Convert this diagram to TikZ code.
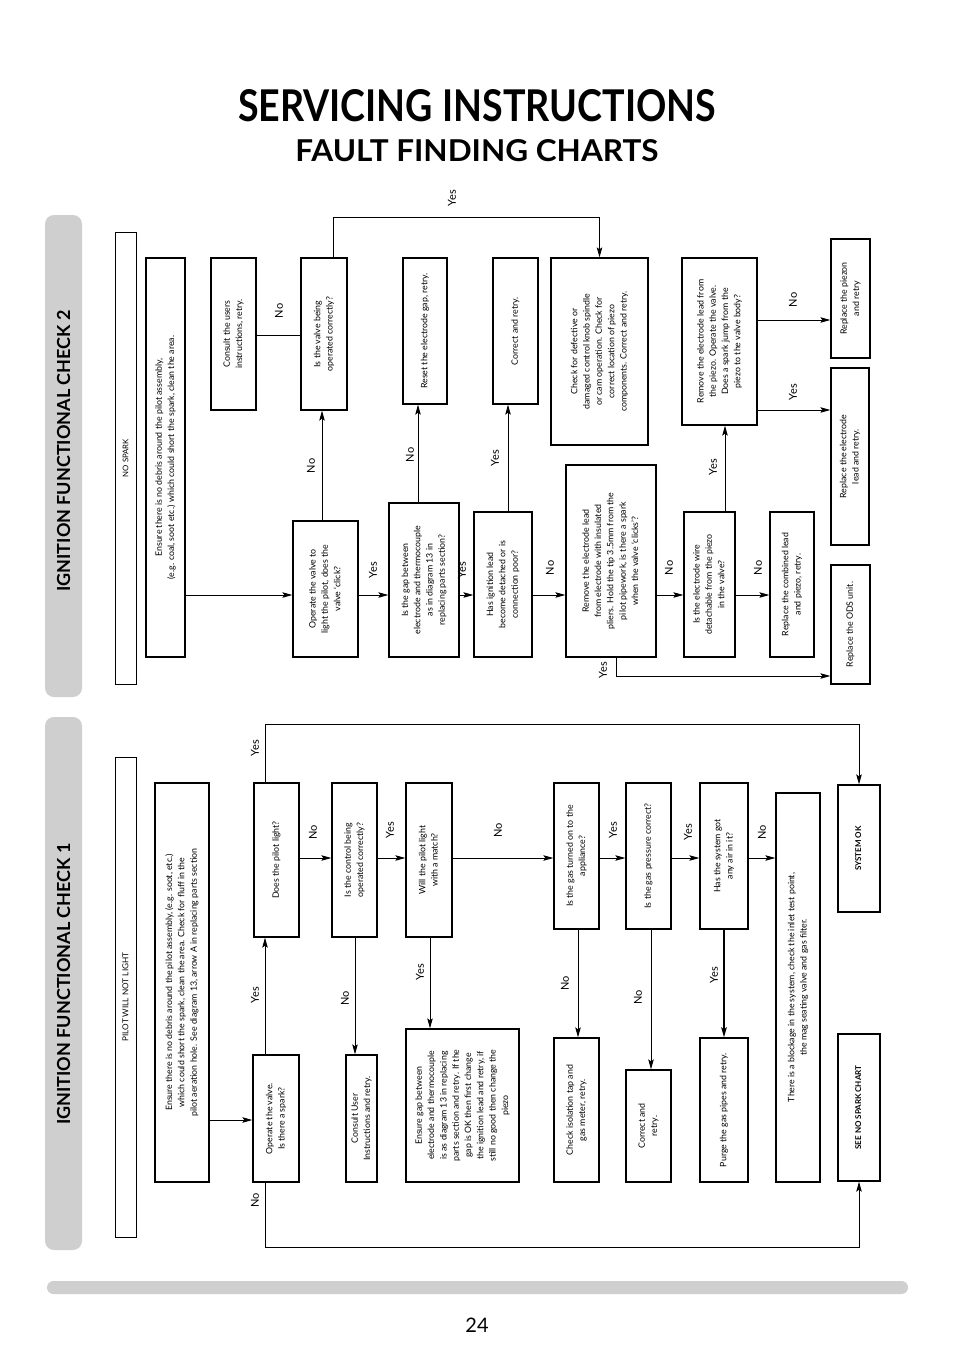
\documentclass[tikz,border=0pt]{standalone}
\usepackage{graphicx}
\usepackage{fontspec}
\setmainfont{Lato}
\usetikzlibrary{arrows.meta}
\newcommand\rtxt[1]{\rotatebox{90}{\begin{tabular}{@{}c@{}}#1\end{tabular}}}
% \cbox{name}{x1}{y1}{x2}{y2}{text}
\newcommand\cbox[6]{\node[box,minimum width={#4pt-#2pt},minimum height={#5pt-#3pt}] (#1) at ({(#2+#4)/2},{(#3+#5)/2}) {\rtxt{#6}};}
\begin{document}
\begin{tikzpicture}[x=1pt,y=-1pt,
  box/.style={draw,line width=1.3pt,inner sep=0pt,font=\fontsize{8.8}{12.3}\selectfont},
  bbox/.style={box,font=\fontsize{8}{11}\selectfont\bfseries},
  lane/.style={draw,line width=0.8pt,inner sep=0pt},
  arr/.style={line width=0.9pt,-{Stealth[length=10pt,width=5.5pt,inset=2pt]}},
  ln/.style={line width=0.9pt},
  lbl/.style={rotate=90,inner sep=0pt,font=\fontsize{11}{12}\selectfont},
  sidebar/.style={fill=black!19,draw=none,rounded corners=9pt},
  sidetxt/.style={rotate=90,inner sep=0pt,font=\fontsize{18}{20}\selectfont\bfseries}]
\useasboundingbox (0,0) rectangle (954,1351);
\fill[white] (0,0) rectangle (954,1351);

% titles
\node[anchor=base,inner sep=0pt] (title) at (477,122) {\resizebox{478pt}{32pt}{\bfseries SERVICING INSTRUCTIONS}};
\node[anchor=base,inner sep=0pt] (subtitle) at (477,162) {\resizebox{363pt}{22pt}{\bfseries FAULT FINDING CHARTS}};

% side bars
\node[sidebar,minimum width=37pt,minimum height=482pt] (bar2) at (63.5,456) {};
\node[sidetxt] (bar2t) at (63.5,451) {IGNITION FUNCTIONAL CHECK 2};
\node[sidebar,minimum width=37pt,minimum height=533pt] (bar1) at (63.5,983.5) {};
\node[sidetxt] (bar1t) at (63.5,984) {IGNITION FUNCTIONAL CHECK 1};
\node[sidebar,rounded corners=6.5pt,minimum width=861pt,minimum height=13pt] (bottombar) at (477.5,1287.5) {};
\node[inner sep=0pt,font=\fontsize{20}{22}\selectfont] (pageno) at (477,1325) {24};

% ---------------- Chart 2 : NO SPARK ----------------
\node[lane,minimum width=21pt,minimum height=452pt] (nospark) at (125.5,458) {\rotatebox{90}{\fontsize{7.8}{9}\selectfont NO SPARK}};
\cbox{A}{146}{258}{185}{657}{Ensure there is no debris around the pilot assembly,\\(e.g. coal, soot etc.) which could short the spark, clean the area.}
\cbox{B}{211}{258}{256}{410}{Consult the users\\instructions, retry.}
\cbox{C}{301}{258}{347}{410}{Is the valve being\\operated correctly?}
\cbox{D}{293}{521}{358}{657}{Operate the valve to\\light the pilot, does the\\valve ‘click?}
\cbox{E}{389}{503}{459}{657}{Is the gap between\\electrode and thermocouple\\as in diagram 13 in\\replacing parts section?}
\cbox{F}{403}{258}{447}{404}{Reset the electrode gap, retry.}
\cbox{G}{474}{512}{532}{657}{Has ignition lead\\become detached or is\\connection poor?}
\cbox{H}{493}{258}{538}{404}{Correct and retry.}
\cbox{I}{566}{465}{656}{657}{Remove the electrode lead\\from electrode with insulated\\pliers. Hold the tip 3.5mm from the\\pilot pipework, is there a spark\\when the valve ‘clicks’?}
\cbox{J}{551}{258}{648}{445}{Check for defective or\\damaged control knob spindle\\or cam operation. Check for\\correct location of piezo\\components. Correct and retry.}
\cbox{K}{684}{512}{735}{657}{Is the electrode wire\\detachable from the piezo\\in the valve?}
\cbox{L}{682}{258}{757}{425}{Remove the electrode lead from\\the piezo. Operate the valve.\\Does a spark jump from the\\piezo to the valve body?}
\cbox{M}{770}{512}{814}{657}{Replace the combined lead\\and piezo, retry.}
\cbox{N}{831}{368}{869}{545}{Replace the electrode\\lead and retry.}
\cbox{O}{831}{239}{870}{358}{Replace the piezon\\and retry}
\cbox{P}{831}{565}{870}{684}{Replace the ODS unit.}

\coordinate (r595) at (0,595);
\coordinate (t217) at (0,217);
\coordinate (x322) at (322,0);
\coordinate (x333) at (333,0);
\coordinate (x418) at (418,0);
\coordinate (x508) at (508,0);
\coordinate (x616) at (616,0);
\coordinate (x725) at (725,0);
\coordinate (r335) at (0,335);
\coordinate (r676) at (0,676);
\coordinate (r410) at (0,410);
\coordinate (r320) at (0,320);

\draw[arr] (A.east|-r595) -- (D.west|-r595);
\draw[arr] (D.north-|x322) -- (C.south-|x322);
\draw[ln] (C.west|-r335) -- (B.east|-r335);
\draw[arr] (C.north-|x333) -- (x333|-t217) -| (J.north);
\draw[arr] (D.east|-r595) -- (E.west|-r595);
\draw[arr] (E.north-|x418) -- (F.south-|x418);
\draw[arr] (E.east|-r595) -- (G.west|-r595);
\draw[arr] (G.north-|x508) -- (H.south-|x508);
\draw[arr] (G.east|-r595) -- (I.west|-r595);
\draw[arr] (I.east|-r595) -- (K.west|-r595);
\draw[arr] (I.south-|x616) |- (P.west|-r676);
\draw[arr] (K.north-|x725) -- (L.south-|x725);
\draw[arr] (K.east|-r595) -- (M.west|-r595);
\draw[arr] (L.east|-r410) -- (N.west|-r410);
\draw[arr] (L.east|-r320) -- (O.west|-r320);

\node[lbl] (l1) at (311,466) {No};
\node[lbl] (l2) at (279,311) {No};
\node[lbl] (l3) at (452,198) {Yes};
\node[lbl] (l4) at (373,570) {Yes};
\node[lbl] (l5) at (410,455) {No};
\node[lbl] (l6) at (462,570) {Yes};
\node[lbl] (l7) at (495,458) {Yes};
\node[lbl] (l8) at (550,568) {No};
\node[lbl] (l9) at (669,568) {No};
\node[lbl] (l10) at (603,670) {Yes};
\node[lbl] (l11) at (713,467) {Yes};
\node[lbl] (l12) at (758,568) {No};
\node[lbl] (l13) at (793,392) {Yes};
\node[lbl] (l14) at (793,300) {No};

% ---------------- Chart 1 : PILOT WILL NOT LIGHT ----------------
\node[lane,minimum width=21pt,minimum height=480pt] (pilot) at (125.5,997) {\rotatebox{90}{\fontsize{8.2}{9}\selectfont PILOT WILL NOT LIGHT}};
\cbox{Q}{155}{783}{209}{1182}{Ensure there is no debris around the pilot assembly, (e.g. soot, etc.)\\which could short the spark, clean the area. Check for fluff in the\\pilot aeration hole. See diagram 13, arrow A in replacing parts section}
\cbox{R}{253}{1055}{299}{1182}{Operate the valve.\\Is there a spark?}
\cbox{S}{254}{783}{299}{937}{Does the pilot light?}
\cbox{T}{332}{783}{377}{937}{Is the control being\\operated correctly?}
\cbox{U}{346}{1055}{377}{1182}{Consult User\\Instructions and retry.}
\cbox{V}{406}{783}{452}{937}{Will the pilot light\\with a match?}
\cbox{W}{406}{1029}{519}{1182}{Ensure gap between\\electrode and thermocouple\\is as diagram 13 in replacing\\parts section and retry. If the\\gap is OK then first change\\the ignition lead and retry, if\\still no good then change the\\piezo}
\cbox{X}{554}{783}{599}{929}{Is the gas turned on to the\\appliance?}
\cbox{Y}{554}{1038}{599}{1182}{Check isolation tap and\\gas meter, retry.}
\cbox{Z}{626}{783}{671}{929}{Is the gas pressure correct?}
\cbox{AA}{626}{1070}{671}{1182}{Correct and\\retry.}
\cbox{AB}{700}{783}{748}{929}{Has the system got\\any air in it?}
\cbox{AC}{700}{1038}{748}{1182}{Purge the gas pipes and retry.}
\cbox{AD}{776}{793}{820}{1182}{There is a blockage in the system, check the inlet test point,\\the mag seating valve and gas filter.}
\node[bbox,minimum width=42pt,minimum height=127pt] (AE) at (859,848.5) {\rtxt{SYSTEM OK}};
\node[bbox,minimum width=42pt,minimum height=147pt] (AF) at (859,1107.5) {\rtxt{SEE NO SPARK CHART}};

\coordinate (r858) at (0,858);
\coordinate (r1120) at (0,1120);
\coordinate (x265) at (265,0);
\coordinate (x355) at (355,0);
\coordinate (x430) at (430,0);
\coordinate (x578) at (578,0);
\coordinate (x651) at (651,0);
\coordinate (x724) at (724,0);
\coordinate (t724) at (0,724);
\coordinate (b1247) at (0,1247);

\draw[arr] (Q.east|-r1120) -- (R.west|-r1120);
\draw[arr] (R.north-|x265) -- (S.south-|x265);
\draw[arr] (R.south-|x265) -- (x265|-b1247) -| (AF.south);
\draw[arr] (S.north-|x265) -- (x265|-t724) -| (AE.north);
\draw[arr] (S.east|-r858) -- (T.west|-r858);
\draw[arr] (T.south-|x355) -- (U.north-|x355);
\draw[arr] (T.east|-r858) -- (V.west|-r858);
\draw[arr] (V.south-|x430) -- (W.north-|x430);
\draw[arr] (V.east|-r858) -- (X.west|-r858);
\draw[arr] (X.south-|x578) -- (Y.north-|x578);
\draw[arr] (X.east|-r858) -- (Z.west|-r858);
\draw[arr] (Z.south-|x651) -- (AA.north-|x651);
\draw[arr] (Z.east|-r858) -- (AB.west|-r858);
\draw[arr,line width=1.8pt] (AB.south-|x724) -- (AC.north-|x724);
\draw[arr] (AB.east|-r858) -- (AD.west|-r858);

\node[lbl] (m1) at (255,995) {Yes};
\node[lbl] (m2) at (255,1200) {No};
\node[lbl] (m3) at (255,748) {Yes};
\node[lbl] (m4) at (313,832) {No};
\node[lbl] (m5) at (345,998) {No};
\node[lbl] (m6) at (390,830) {Yes};
\node[lbl] (m7) at (420,972) {Yes};
\node[lbl] (m8) at (498,830) {No};
\node[lbl] (m9) at (565,983) {No};
\node[lbl] (m10) at (613,830) {Yes};
\node[lbl] (m11) at (638,997) {No};
\node[lbl] (m12) at (688,832) {Yes};
\node[lbl] (m13) at (714,975) {Yes};
\node[lbl] (m14) at (762,832) {No};
\end{tikzpicture}
\end{document}
